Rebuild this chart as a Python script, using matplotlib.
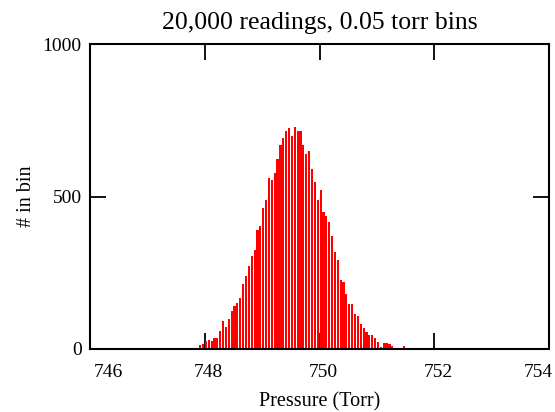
import numpy as np
import matplotlib
matplotlib.use('Agg')
import matplotlib.pyplot as plt
import matplotlib.transforms as mtransforms

plt.rcParams['font.family'] = ['Liberation Serif', 'DejaVu Serif']

# histogram of pressure readings, 0.05 torr bins starting at first_edge
bin_width = 0.05
first_edge = 747.90
counts = [12, 15, 26, 27, 25, 36, 36, 57, 90, 70,
          96, 122, 141, 150, 167, 213, 240, 272, 305, 324,
          391, 402, 462, 488, 561, 553, 579, 625, 670, 692,
          717, 725, 698, 730, 717, 715, 670, 640, 651, 592,
          547, 488, 520, 449, 436, 415, 369, 317, 291, 226,
          218, 180, 148, 146, 115, 108, 82, 69, 56, 43,
          43, 36, 23, 5, 17, 17, 15, 10, 3, 2,
          1, 10]
xticks = [746, 748, 750, 752, 754]
yticks = [0, 500, 1000]

left_edges = first_edge + bin_width * np.arange(len(counts))

fig = plt.figure(figsize=(5.55, 4.12), dpi=100)
ax = fig.add_axes([0.1622, 0.154, 0.827, 0.738])

ax.bar(left_edges, counts, width=bin_width * 0.75, align='edge',
       color='#ff0000', linewidth=0, zorder=3)

ax.set_xlim(746, 754)
ax.set_ylim(0, 1000)
ax.set_xticks(xticks)
ax.set_yticks(yticks)
ax.tick_params(direction='in', length=11.5, width=1.3, top=True, right=True,
               labelsize=14, colors='black')
ax.tick_params(axis='x', pad=11)
ax.tick_params(axis='y', pad=6)
for s in ax.spines.values():
    s.set_linewidth(1.5)
    s.set_zorder(4)

# labels sit a few pixels right of the ticks, end ones kept inside the box
shift = mtransforms.ScaledTranslation(4 / 100, 0, fig.dpi_scale_trans)
labs = ax.get_xticklabels()
for lab in labs:
    lab.set_transform(lab.get_transform() + shift)
labs[0].set_ha('left')
labs[-1].set_ha('right')

ax.set_title('20,000 readings, 0.05 torr bins', fontsize=18.5, pad=11)
ax.set_xlabel('Pressure (Torr)', fontsize=14.5, labelpad=8)
ax.set_ylabel('# in bin', fontsize=14.5, labelpad=5)

fig.savefig('out.png', dpi=100)
